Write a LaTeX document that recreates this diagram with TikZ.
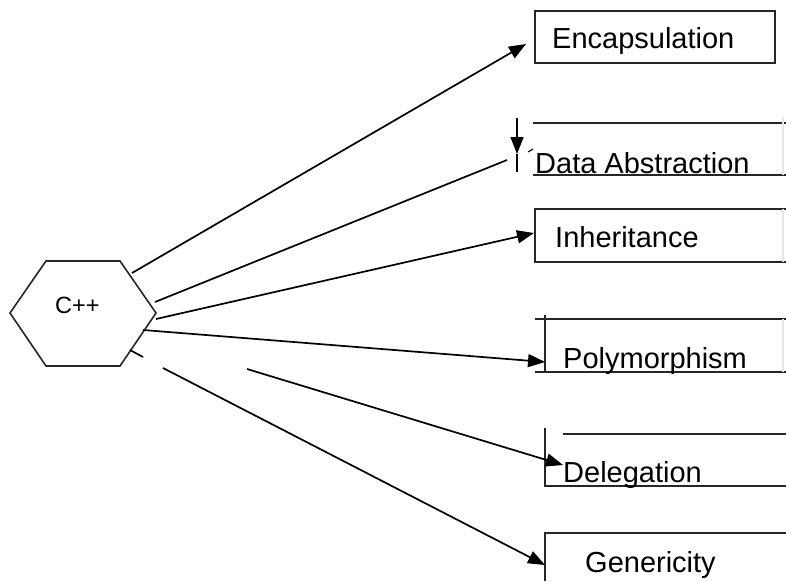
\documentclass[tikz,border=0pt]{standalone}
\usepackage{fontspec}
\setmainfont{Liberation Sans}
\usetikzlibrary{arrows.meta}
\begin{document}
\begin{tikzpicture}[x=1pt,y=-1pt,
  edge/.style={line width=1.8pt,color=black!85},
  conn/.style={line width=1.7pt,-{Triangle[length=17pt,width=13pt]}},
  plain/.style={line width=1.7pt},
  faint/.style={line width=1.2pt,color=black!10},
  lbl/.style={anchor=base west,inner sep=0pt,font=\fontsize{29}{34}\selectfont},
  hexlbl/.style={anchor=base west,inner sep=0pt,font=\fontsize{23.5}{28}\selectfont}]
\useasboundingbox[fill=white] (0,0) rectangle (786,581);

% hexagon
\draw[edge,line width=1.6pt,line join=miter] (10,313) -- (46,261) -- (120,261) -- (156,313) -- (120,366) -- (46,366) -- cycle;
\node[hexlbl] (cpp) at (55,313) {C++};

% connector start points on the hexagon
\coordinate (s1) at (132,273);
\coordinate (s2) at (155,302);
\coordinate (s3) at (156,319);
\coordinate (s4) at (143,330);
\coordinate (s5) at (247,369);
\coordinate (s6) at (163,368);
\coordinate (f1) at (130,350);
\coordinate (f2) at (143,357);

% Encapsulation
\draw[edge] (535,11) rectangle (775,63);
\node[lbl] (enc) at (552,48) {Encapsulation};
\coordinate (t1) at (526,44);

% Data Abstraction
\draw[edge] (533,123) -- (786,123);
\draw[edge] (533,175) -- (786,175);
\draw[faint] (783,117) -- (783,175);
\node[lbl] (dabs) at (535,173) {Data Abstraction};
\coordinate (dtop) at (517,118);
\coordinate (dtip) at (517,154);
\coordinate (dbot) at (517,172);
\draw[conn] (dtop) -- (dtip);
\draw[plain] (dtip) -- (dbot);
\coordinate (t2) at (507,160);
\draw[plain,line width=1.1pt] (528,152) -- (533,149);

% Inheritance
\draw[edge] (786,209) -- (535,209) -- (535,262) -- (786,262);
\draw[faint] (783,209) -- (783,262);
\node[lbl] (inh) at (555,247) {Inheritance};
\coordinate (t3) at (534,233);

% Polymorphism
\draw[edge] (535,319) -- (786,319);
\draw[edge] (535,372) -- (786,372);
\draw[edge] (545,315) -- (545,372);
\draw[faint] (783,319) -- (783,372);
\node[lbl] (poly) at (563,368) {Polymorphism};
\coordinate (t4) at (545,362);

% Delegation
\draw[edge] (563,434) -- (786,434);
\draw[edge] (545,428) -- (545,486) -- (786,486);
\node[lbl] (dele) at (563,482) {Delegation};
\coordinate (t5) at (563,465);

% Genericity
\draw[edge] (786,533) -- (545,533) -- (545,581);
\node[lbl] (gen) at (585,572) {Genericity};
\coordinate (t6) at (545,565);

% connectors
\draw[conn] (s1) -- (t1);
\draw[plain] (s2) -- (t2);
\draw[conn] (s3) -- (t3);
\draw[conn] (s4) -- (t4);
\draw[conn] (s5) -- (t5);
\draw[conn] (s6) -- (t6);
\draw[plain] (f1) -- (f2);
\end{tikzpicture}
\end{document}
